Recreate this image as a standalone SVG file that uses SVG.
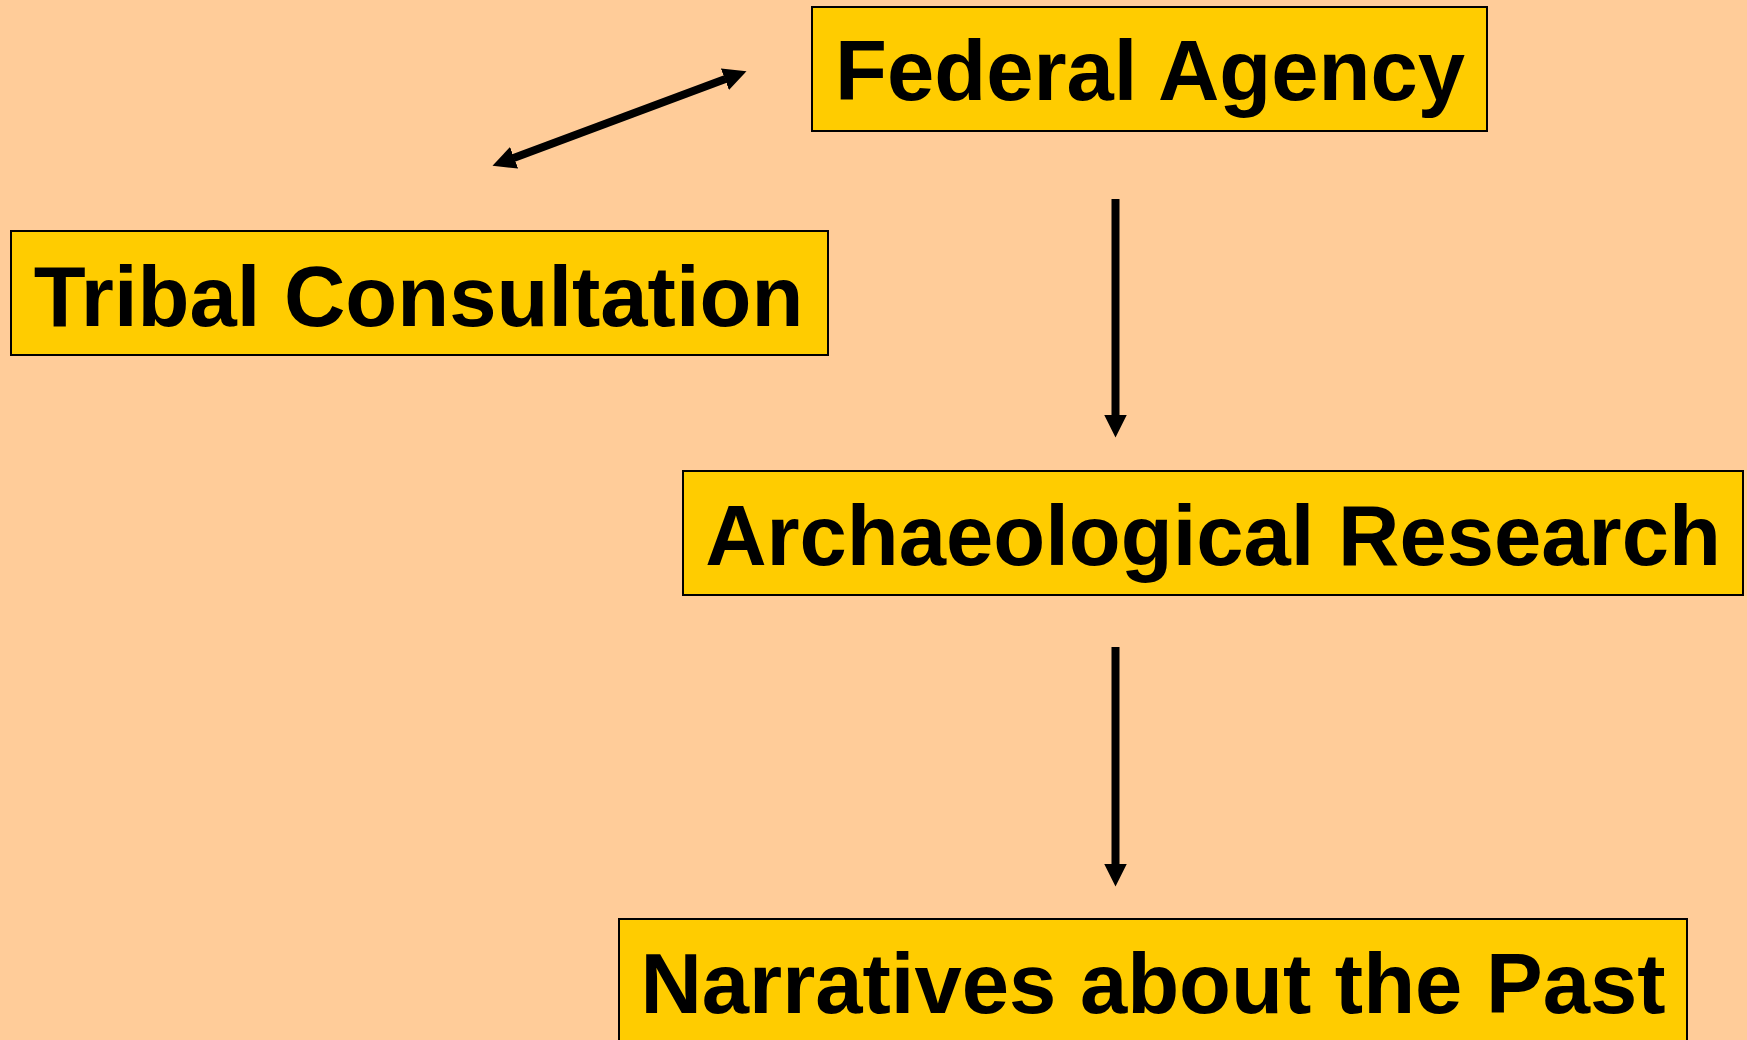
<svg xmlns="http://www.w3.org/2000/svg" width="1747" height="1040" viewBox="0 0 1747 1040">
  <style>
    .box { fill: #FFCC00; stroke: #000; stroke-width: 2; }
    .label { font-family: "Liberation Sans", Arial, sans-serif; font-weight: bold; font-size: 85px; fill: #000; text-anchor: middle; }
    .conn { stroke: #000; stroke-width: 8; fill: none; }
  </style>
  <defs>
    <marker id="head" markerUnits="userSpaceOnUse" markerWidth="24" markerHeight="24" viewBox="0 0 24 24" refX="0.5" refY="11.5" orient="auto-start-reverse">
      <path d="M0,0 L23,11.5 L0,23 z" fill="#000"/>
    </marker>
  </defs>
  <rect x="0" y="0" width="1747" height="1040" fill="#FFCC99"/>
  <g id="connectors">
    <line class="conn" x1="513.6" y1="158" x2="725.4" y2="79" marker-start="url(#head)" marker-end="url(#head)"/>
    <line class="conn" x1="1115.5" y1="199" x2="1115.5" y2="415" marker-end="url(#head)"/>
    <line class="conn" x1="1115.5" y1="647" x2="1115.5" y2="864" marker-end="url(#head)"/>
  </g>
  <g id="federal-agency">
    <rect class="box" x="812" y="7" width="675" height="124"/>
    <text class="label" x="1150" y="100">Federal Agency</text>
  </g>
  <g id="tribal-consultation">
    <rect class="box" x="11" y="231" width="817" height="124"/>
    <text class="label" x="418.5" y="326">Tribal Consultation</text>
  </g>
  <g id="archaeological-research">
    <rect class="box" x="683" y="471" width="1060" height="124"/>
    <text class="label" x="1213" y="565">Archaeological Research</text>
  </g>
  <g id="narratives">
    <rect class="box" x="619" y="919" width="1068" height="140"/>
    <text class="label" x="1153" y="1013">Narratives about the Past</text>
  </g>
</svg>
